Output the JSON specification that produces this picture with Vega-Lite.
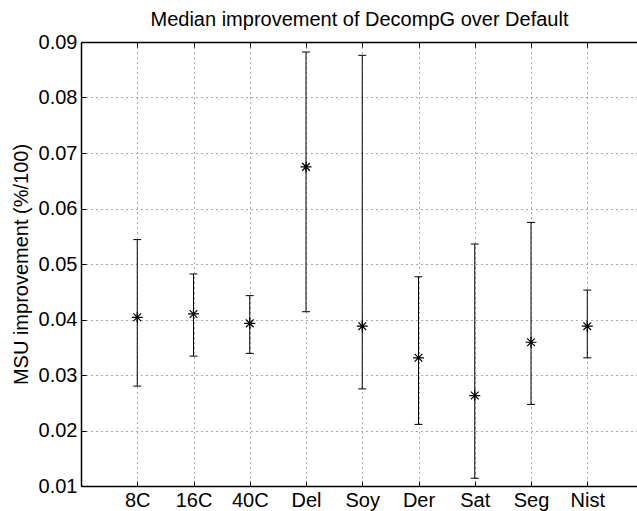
{
  "$schema": "https://vega.github.io/schema/vega-lite/v6.json",
  "width": 556,
  "height": 444,
  "autosize": {"type": "none"},
  "padding": {"left": 81, "top": 42, "right": 0, "bottom": 25},
  "background": "white",
  "view": {"stroke": null},
  "resolve": {"axis": {"x": "independent", "y": "independent"}},
  "data": {
    "values": [
      {"pos": 1, "name": "8C", "median": 0.0404, "low": 0.0280, "high": 0.0544},
      {"pos": 2, "name": "16C", "median": 0.0410, "low": 0.0334, "high": 0.0482},
      {"pos": 3, "name": "40C", "median": 0.0393, "low": 0.0339, "high": 0.0443},
      {"pos": 4, "name": "Del", "median": 0.0675, "low": 0.0414, "high": 0.0882},
      {"pos": 5, "name": "Soy", "median": 0.0388, "low": 0.0275, "high": 0.0876},
      {"pos": 6, "name": "Der", "median": 0.0331, "low": 0.0211, "high": 0.0477},
      {"pos": 7, "name": "Sat", "median": 0.0263, "low": 0.0114, "high": 0.0536},
      {"pos": 8, "name": "Seg", "median": 0.0359, "low": 0.0247, "high": 0.0575},
      {"pos": 9, "name": "Nist", "median": 0.0388, "low": 0.0331, "high": 0.0453}
    ]
  },
  "layer": [
    {
      "mark": {"type": "rule", "color": "black", "strokeWidth": 1},
      "encoding": {
        "x": {
          "field": "pos",
          "type": "quantitative",
          "scale": {"domain": [0, 9.884], "nice": false, "zero": false},
          "axis": {
            "orient": "bottom",
            "values": [1, 2, 3, 4, 5, 6, 7, 8, 9],
            "labelExpr": "['','8C','16C','40C','Del','Soy','Der','Sat','Seg','Nist'][datum.value]",
            "labelOverlap": false,
            "labelFlush": false,
            "labelFont": "Liberation Sans",
            "labelFontSize": 20,
            "labelColor": "black",
            "labelPadding": 9,
            "grid": true,
            "gridColor": "#555555",
            "gridDash": [1, 4],
            "gridWidth": 1,
            "domain": true,
            "domainColor": "black",
            "domainWidth": 1.5,
            "ticks": true,
            "tickSize": -5,
            "tickColor": "black",
            "tickWidth": 1,
            "title": null
          }
        },
        "y": {
          "field": "low",
          "type": "quantitative",
          "scale": {"domain": [0.01, 0.09], "nice": false, "zero": false},
          "axis": {
            "orient": "left",
            "values": [0.01, 0.02, 0.03, 0.04, 0.05, 0.06, 0.07, 0.08, 0.09],
            "format": ".2f",
            "labelOverlap": false,
            "labelFlush": false,
            "labelFont": "Liberation Sans",
            "labelFontSize": 20,
            "labelColor": "black",
            "labelPadding": 9,
            "grid": true,
            "gridColor": "#555555",
            "gridDash": [1, 4],
            "gridWidth": 1,
            "domain": true,
            "domainColor": "black",
            "domainWidth": 1.5,
            "ticks": true,
            "tickSize": -5,
            "tickColor": "black",
            "tickWidth": 1,
            "title": "MSU improvement (%/100)",
            "titleFont": "Liberation Sans",
            "titleFontSize": 20,
            "titleFontWeight": "normal",
            "titleColor": "black",
            "titlePadding": 7
          }
        },
        "y2": {"field": "high"}
      }
    },
    {
      "mark": {"type": "tick", "orient": "horizontal", "size": 8, "thickness": 1, "color": "black", "opacity": 1},
      "encoding": {
        "x": {"field": "pos", "type": "quantitative", "axis": null},
        "y": {"field": "low", "type": "quantitative", "axis": null}
      }
    },
    {
      "mark": {"type": "tick", "orient": "horizontal", "size": 8, "thickness": 1, "color": "black", "opacity": 1},
      "encoding": {
        "x": {"field": "pos", "type": "quantitative", "axis": null},
        "y": {"field": "high", "type": "quantitative", "axis": null}
      }
    },
    {
      "mark": {
        "type": "point",
        "shape": "M-1,0L1,0M0,-1L0,1M-0.7,-0.7L0.7,0.7M-0.7,0.7L0.7,-0.7",
        "size": 121,
        "filled": false,
        "stroke": "black",
        "strokeWidth": 1.2,
        "opacity": 1
      },
      "encoding": {
        "x": {
          "field": "pos",
          "type": "quantitative",
          "axis": {
            "orient": "top",
            "values": [1, 2, 3, 4, 5, 6, 7, 8, 9],
            "labels": false,
            "grid": false,
            "domain": true,
            "domainColor": "black",
            "domainWidth": 1.5,
            "ticks": true,
            "tickSize": -5,
            "tickColor": "black",
            "tickWidth": 1,
            "minExtent": 0,
            "title": "Median improvement of DecompG over Default",
            "titleFont": "Liberation Sans",
            "titleFontSize": 20,
            "titleFontWeight": "normal",
            "titleColor": "black",
            "titleAnchor": "middle",
            "titleBaseline": "alphabetic",
            "titlePadding": 16
          }
        },
        "y": {"field": "median", "type": "quantitative", "axis": null}
      }
    }
  ]
}
